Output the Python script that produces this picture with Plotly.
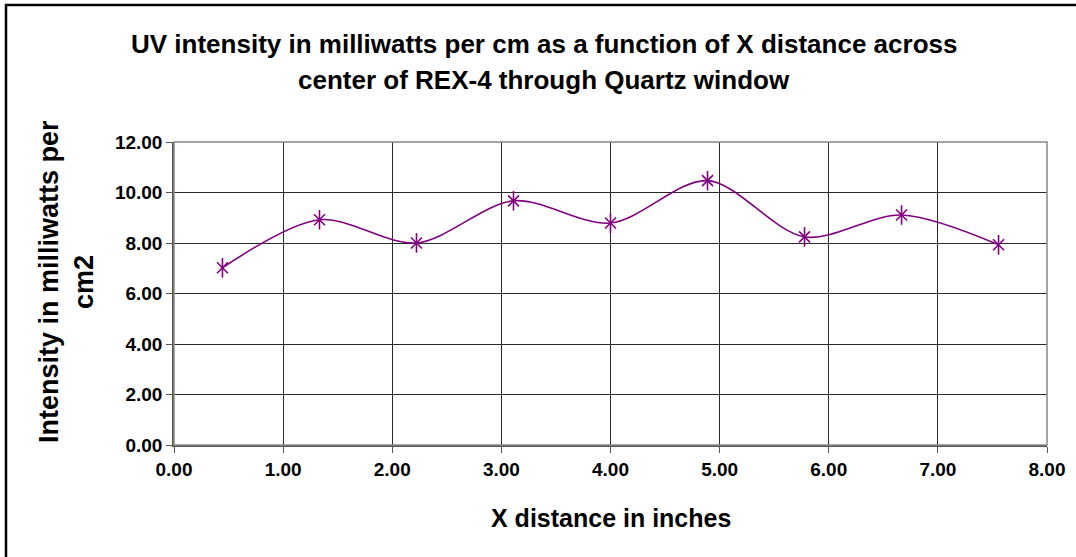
import plotly.graph_objects as go

x_inches = [0.444, 1.333, 2.222, 3.111, 4.0, 4.889, 5.778, 6.667, 7.556]
intensity = [7.02, 8.92, 8.00, 9.67, 8.79, 10.47, 8.24, 9.11, 7.93]

title_lines = ["UV intensity in milliwatts per cm as a function of X distance across",
               "center of REX-4 through Quartz window"]
x_title = "X distance in inches"
y_title_lines = ["Intensity in milliwatts per", "cm2"]

W, H = 1076, 557
L, R, T, B = 174, 29, 142, 112
pw, ph = W - L - R, H - T - B

def px_to_paper_x(px):
    return (px - L) / pw

def py_to_paper_y(py):
    return (H - B - py) / ph

font = "Liberation Sans, Arial, sans-serif"
purple = "#800080"

fig = go.Figure()
fig.add_trace(go.Scatter(
    x=x_inches, y=intensity, mode="lines",
    line=dict(color=purple, width=1.6, shape="spline", smoothing=0.9),
    showlegend=False, hoverinfo="skip",
))
# Excel-style asterisk marker: an X plus a vertical bar
fig.add_trace(go.Scatter(
    x=x_inches, y=intensity, mode="markers",
    marker=dict(symbol="x-thin-open", size=11, color=purple,
                line=dict(color=purple, width=1.6)),
    showlegend=False,
))
fig.add_trace(go.Scatter(
    x=x_inches, y=intensity, mode="markers",
    marker=dict(symbol="line-ns-open", size=14, color=purple,
                line=dict(color=purple, width=1.6)),
    showlegend=False, hoverinfo="skip",
))

fig.update_layout(
    width=W, height=H,
    margin=dict(l=L, r=R, t=T, b=B),
    paper_bgcolor="white", plot_bgcolor="white",
    font=dict(family=font, color="black"),
    xaxis=dict(range=[0, 8], dtick=1, tickformat=".2f",
               showgrid=True, gridcolor="#2a2a2a", gridwidth=1,
               showline=True, linecolor="#555", linewidth=2, mirror=False,
               ticks="outside", ticklen=6, tickcolor="#555",
               tickfont=dict(size=19, family=font, weight="bold"),
               zeroline=False),
    yaxis=dict(range=[0, 12], dtick=2, tickformat=".2f",
               showgrid=True, gridcolor="#2a2a2a", gridwidth=1,
               showline=True, linecolor="#555", linewidth=1.5,
               ticks="outside", ticklen=6, tickcolor="#555",
               tickfont=dict(size=19, family=font, weight="bold"),
               zeroline=False),
)

annotations = []
for txt, py in zip(title_lines, [44, 80]):
    annotations.append(dict(text="<b>%s</b>" % txt, x=px_to_paper_x(544), y=py_to_paper_y(py),
                            xref="paper", yref="paper", showarrow=False,
                            xanchor="center", yanchor="middle",
                            font=dict(size=26, family=font, color="black")))
annotations.append(dict(text="<b>%s</b>" % x_title, x=px_to_paper_x(611), y=py_to_paper_y(518),
                        xref="paper", yref="paper", showarrow=False,
                        xanchor="center", yanchor="middle",
                        font=dict(size=25, family=font, color="black")))
for txt, px in zip(y_title_lines, [49, 84]):
    annotations.append(dict(text="<b>%s</b>" % txt, x=px_to_paper_x(px), y=py_to_paper_y(282),
                            xref="paper", yref="paper", showarrow=False, textangle=-90,
                            xanchor="center", yanchor="middle",
                            font=dict(size=27, family=font, color="black")))
fig.update_layout(annotations=annotations)

fig.add_shape(type="rect", xref="paper", yref="paper", x0=0, x1=1, y0=0, y1=1,
              line=dict(color="#888", width=1.5), layer="above")
fig.add_shape(type="rect", xref="paper", yref="paper",
              x0=px_to_paper_x(6), x1=px_to_paper_x(1085),
              y0=py_to_paper_y(565), y1=py_to_paper_y(5),
              line=dict(color="black", width=2.5))

fig.write_html("out.html", config={"displayModeBar": False},
               post_script="document.body.style.margin='0';document.body.style.overflow='hidden';")
